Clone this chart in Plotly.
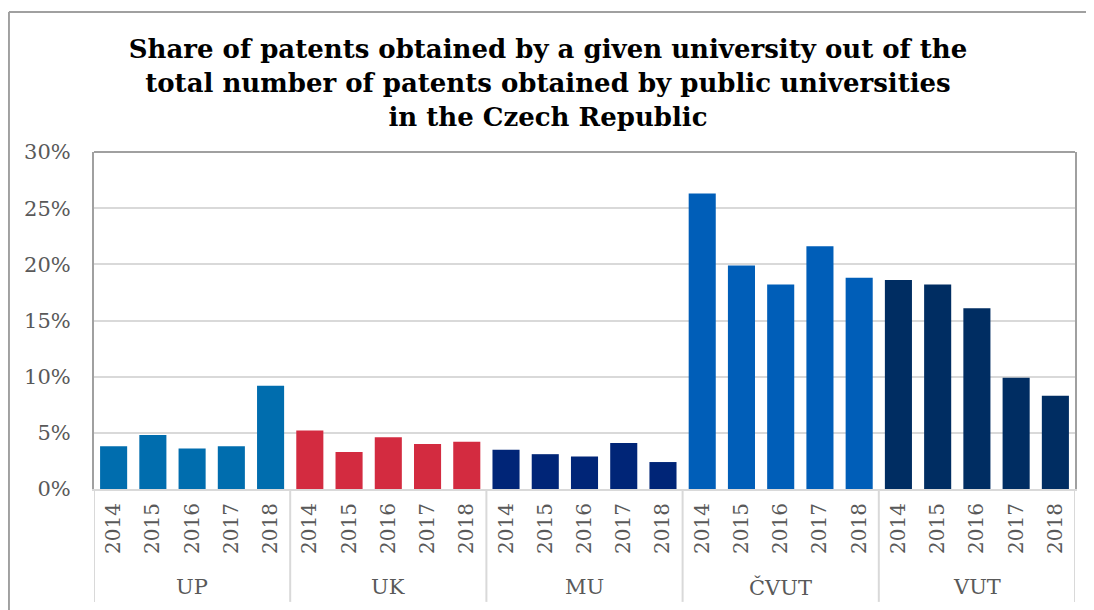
import plotly.graph_objects as go

universities = ["UP", "UK", "MU", "ČVUT", "VUT"]
years = ["2014", "2015", "2016", "2017", "2018"]
share_UP = [3.8, 4.8, 3.6, 3.8, 9.2]
share_UK = [5.2, 3.3, 4.6, 4.0, 4.2]
share_MU = [3.5, 3.1, 2.9, 4.1, 2.4]
share_CVUT = [26.3, 19.9, 18.2, 21.6, 18.8]
share_VUT = [18.6, 18.2, 16.1, 9.9, 8.3]
series = [share_UP, share_UK, share_MU, share_CVUT, share_VUT]
colors = ["#006DAE", "#D32B40", "#002577", "#005EB8", "#002D62"]

FONT = "DejaVu Serif"
GRAY = "#595959"

fig = go.Figure()
tickvals, ticktext = [], []
pos = 0
group_centers = []
boundaries = [-0.5]
for uni, vals, col in zip(universities, series, colors):
    xs = list(range(pos, pos + len(vals)))
    fig.add_trace(go.Bar(x=xs, y=vals, marker=dict(color=col, line=dict(width=0)),
                         width=0.69, name=uni, showlegend=False))
    tickvals += xs
    ticktext += years[:len(vals)]
    group_centers.append((xs[0] + xs[-1]) / 2)
    pos += len(vals)
    boundaries.append(pos - 0.5)

shapes = []
for b in boundaries:
    shapes.append(dict(type="line", xref="x", yref="paper", x0=b, x1=b, y0=0, y1=-0.335,
                       line=dict(color="#d9d9d9", width=2), layer="below"))
# top frame line of plot area
shapes.append(dict(type="line", xref="paper", yref="paper", x0=0, x1=1, y0=1, y1=1,
                   line=dict(color="#a0a0a0", width=2)))
# outer chart border (top and left edges visible in the frame)
shapes.append(dict(type="line", xref="paper", yref="paper", x0=-0.0867, x1=1.2, y0=1.4154, y1=1.4154,
                   line=dict(color="#a0a0a0", width=2)))
shapes.append(dict(type="line", xref="paper", yref="paper", x0=-0.0867, x1=-0.0867, y0=-0.6, y1=1.4154,
                   line=dict(color="#a0a0a0", width=2)))

annotations = []
for uni, c in zip(universities, group_centers):
    annotations.append(dict(x=c, y=-0.291, xref="x", yref="paper", text=uni, showarrow=False,
                            font=dict(family=FONT, size=21, color=GRAY), yanchor="middle"))

W, H = 1086, 602
fig.update_layout(
    width=W, height=H,
    margin=dict(l=86, r=19, t=144, b=121),
    paper_bgcolor="white", plot_bgcolor="white",
    title=dict(text="<b>Share of patents obtained by a given university out of the<br>total number of patents obtained by public universities<br>in the Czech Republic</b>",
               x=540 / W, xref="container", xanchor="center",
               y=1 - 50 / H, yref="container", yanchor="top",
               font=dict(family=FONT, size=26, color="black")),
    bargap=0.31,
    shapes=shapes,
    annotations=annotations,
    xaxis=dict(range=[-0.5, pos - 0.5], tickmode="array", tickvals=tickvals, ticktext=ticktext,
               tickangle=-90, tickfont=dict(family=FONT, size=20, color=GRAY),
               ticks="outside", ticklen=4, tickcolor="rgba(0,0,0,0)",
               showgrid=False, showline=True, linecolor="#d9d9d9", linewidth=2, zeroline=False),
    yaxis=dict(range=[0, 30], dtick=5, ticksuffix="%", tickfont=dict(family=FONT, size=21, color=GRAY),
               ticks="outside", ticklen=17, tickcolor="rgba(0,0,0,0)",
               showgrid=True, gridcolor="#d9d9d9", gridwidth=2,
               showline=True, mirror=True, linecolor="#a0a0a0", linewidth=2, zeroline=False),
)

fig.write_html("out.html")
